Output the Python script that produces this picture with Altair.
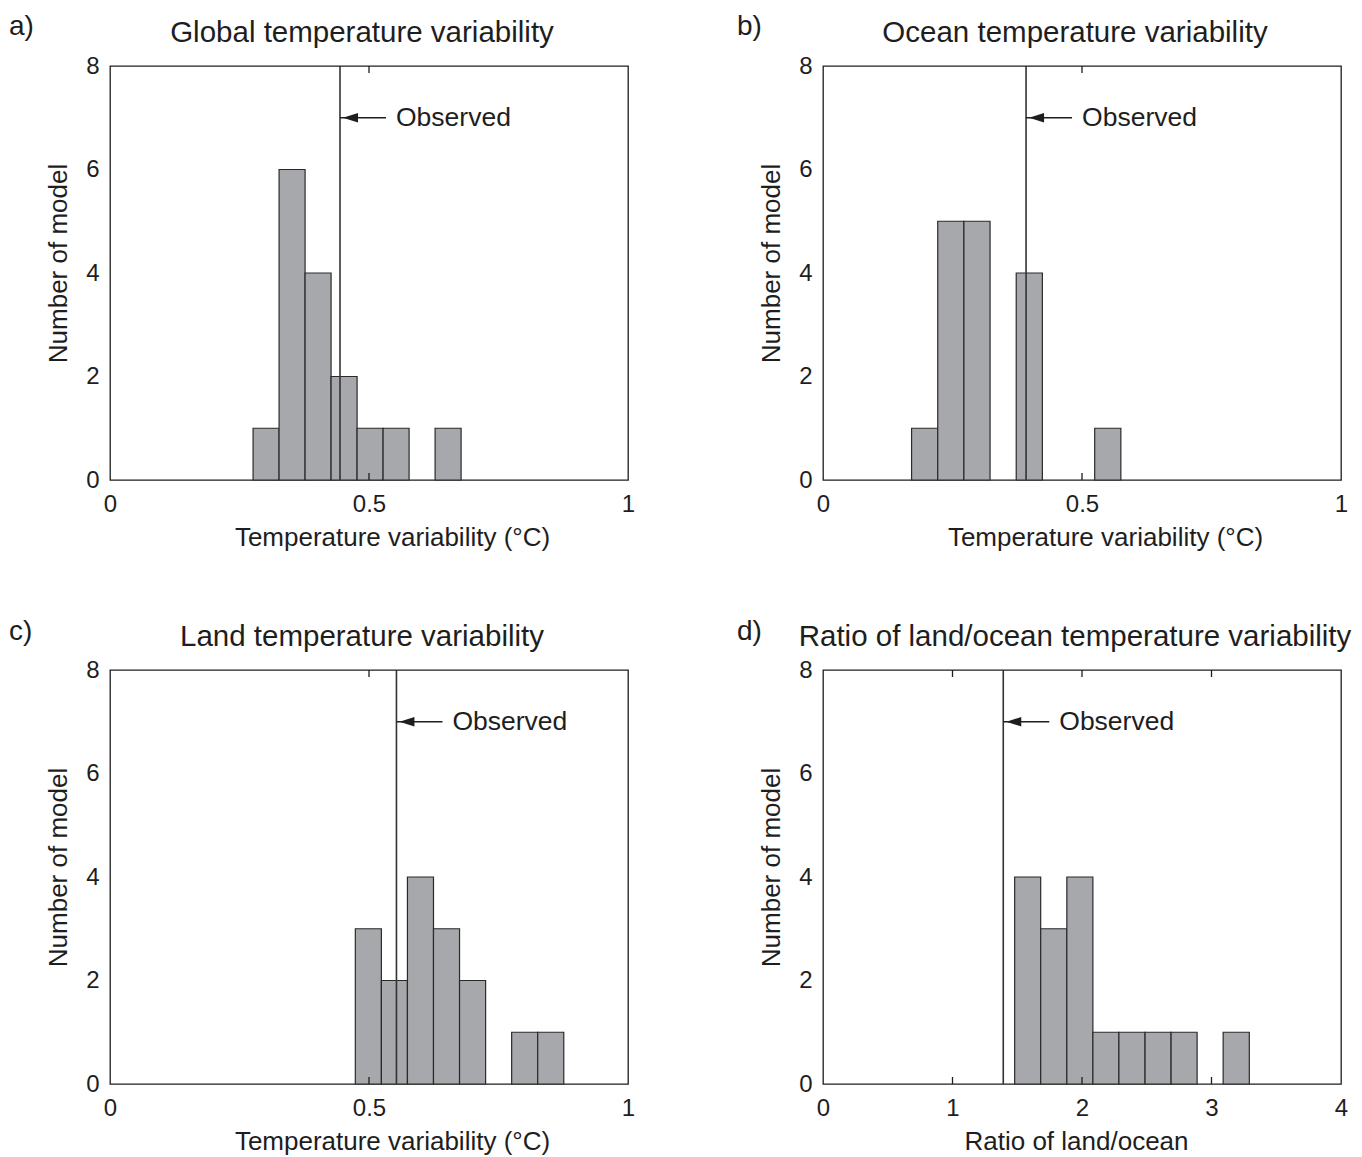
import altair as alt
import pandas as pd

# ---------------- data ----------------
# panel a: global
a_lo = [0.2762, 0.3264, 0.3766, 0.4268, 0.4770, 0.5272, 0.6276]
a_hi = [0.3264, 0.3766, 0.4268, 0.4770, 0.5272, 0.5774, 0.6778]
a_n = [1, 6, 4, 2, 1, 1, 1]
a_obs = 0.444

# panel b: ocean
b_lo = [0.1710, 0.2215, 0.2720, 0.3730, 0.5245]
b_hi = [0.2215, 0.2720, 0.3225, 0.4235, 0.5750]
b_n = [1, 5, 5, 4, 1]
b_obs = 0.392

# panel c: land
c_lo = [0.4736, 0.5239, 0.5742, 0.6245, 0.6748, 0.7754, 0.8257]
c_hi = [0.5239, 0.5742, 0.6245, 0.6748, 0.7251, 0.8257, 0.8760]
c_n = [3, 2, 4, 3, 2, 1, 1]
c_obs = 0.553

# panel d: ratio land/ocean
d_lo = [1.480, 1.681, 1.883, 2.084, 2.285, 2.487, 2.688, 3.090]
d_hi = [1.681, 1.883, 2.084, 2.285, 2.487, 2.688, 2.889, 3.292]
d_n = [4, 3, 4, 1, 1, 1, 1, 1]
d_obs = 1.392

temp_ticks = [0, 0.5, 1]
ratio_ticks = [0, 1, 2, 3, 4]
count_ticks = [0, 2, 4, 6, 8]

FONT = "Liberation Sans"
INK = "#1e1e1e"
FILL = "#a7a8ab"
W, H = 518, 414


def panel(lo, hi, n, obs, xmax, xticks, title, xtitle, label, lab_x, lab_y, title_y, xtitle_x):
    xs = alt.Scale(domain=[0, xmax], nice=False, zero=False)
    ys = alt.Scale(domain=[0, 8], nice=False)
    bars_df = pd.DataFrame({"v": lo, "v2": hi, "n": n})
    obs_df = pd.DataFrame({"v": [obs], "txt": ["Observed"]})
    inner = pd.DataFrame({"v": [t for t in xticks if 0 < t < xmax]})
    lab_df = pd.DataFrame({"label": [label], "title": [title]})

    bars = alt.Chart(bars_df).mark_rect(fill=FILL, stroke="#2a2a2a", strokeWidth=1.2).encode(
        x=alt.X("v:Q", scale=xs, axis=alt.Axis(
            values=xticks, format="~g", title=xtitle, titleX=xtitle_x, titleY=65,
            titleBaseline="alphabetic", labelFlush=False)),
        x2="v2:Q",
        y=alt.Y("n:Q", scale=ys, axis=alt.Axis(
            values=count_ticks, format="~g", title="Number of model",
            titleX=-44, titleY=197, titleBaseline="alphabetic")),
        y2=alt.datum(0),
    )
    obs_line = alt.Chart(obs_df).mark_rule(color="#333333", strokeWidth=1.6).encode(
        x=alt.X("v:Q", scale=xs))
    arrow_line = alt.Chart(obs_df).mark_rule(color=INK, strokeWidth=1.4, x2Offset=46).encode(
        x=alt.X("v:Q", scale=xs), x2="v:Q", y=alt.datum(7))
    arrow_head = alt.Chart(obs_df).mark_point(
        shape="M-1,0L1,-0.62L1,0.62Z", filled=True, color=INK, opacity=1,
        size=225, xOffset=10.5).encode(x=alt.X("v:Q", scale=xs), y=alt.datum(7))
    obs_txt = alt.Chart(obs_df).mark_text(
        align="left", baseline="middle", dx=56, font=FONT, fontSize=26.5, color=INK).encode(
        x=alt.X("v:Q", scale=xs), y=alt.datum(7), text="txt:N")
    tick_b = alt.Chart(inner).mark_rule(color=INK, strokeWidth=1.3).encode(
        x=alt.X("v:Q", scale=xs), y=alt.value(H), y2=alt.value(H - 7))
    tick_t = alt.Chart(inner).mark_rule(color=INK, strokeWidth=1.3).encode(
        x=alt.X("v:Q", scale=xs), y=alt.value(0), y2=alt.value(7))
    lab = alt.Chart(lab_df).mark_text(
        align="left", baseline="alphabetic", font=FONT, fontSize=28, color=INK).encode(
        x=alt.value(lab_x), y=alt.value(lab_y), text="label:N")
    ttl = alt.Chart(lab_df).mark_text(
        align="center", baseline="alphabetic", font=FONT, fontSize=29.5, color=INK).encode(
        x=alt.value(W / 2 - 7), y=alt.value(title_y), text="title:N")

    return alt.layer(bars, obs_line, arrow_line, arrow_head, obs_txt, tick_b, tick_t, lab, ttl).properties(
        width=W, height=H)


pa = panel(a_lo, a_hi, a_n, a_obs, 1, temp_ticks, "Global temperature variability",
           "Temperature variability (°C)", "a)", -101, -31, -24, 282)
pb = panel(b_lo, b_hi, b_n, b_obs, 1, temp_ticks, "Ocean temperature variability",
           "Temperature variability (°C)", "b)", -86, -31, -24, 282)
pc = panel(c_lo, c_hi, c_n, c_obs, 1, temp_ticks, "Land temperature variability",
           "Temperature variability (°C)", "c)", -101, -30, -24, 282)
pd_ = panel(d_lo, d_hi, d_n, d_obs, 4, ratio_ticks, "Ratio of land/ocean temperature variability",
            "Ratio of land/ocean", "d)", -86, -30, -24, 253)

chart = alt.concat(pa, pb, pc, pd_, columns=2, spacing={"row": 190, "column": 195},
                   bounds="flush").properties(
    padding={"top": 4, "left": 0, "right": 0, "bottom": 0}
).configure_view(
    stroke=INK, strokeWidth=1.3
).configure_axis(
    grid=False, domain=False, ticks=False,
    labelFont=FONT, labelFontSize=24, labelColor=INK,
    titleFont=FONT, titleFontSize=26, titleFontWeight="normal", titleColor=INK,
).configure_axisX(labelPadding=12).configure_axisY(labelPadding=11)

chart.save("out.html", embed_options={"renderer": "svg", "actions": False})
